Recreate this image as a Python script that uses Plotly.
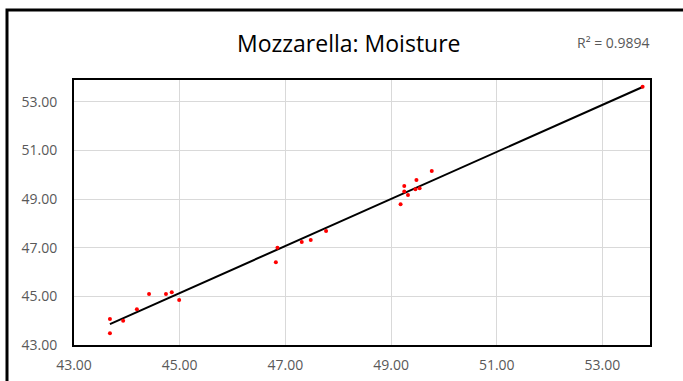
import numpy as np
import plotly.graph_objects as go

# Data
reference = [43.68, 43.68, 43.93, 44.19, 44.42, 44.74, 44.85, 44.99,
             46.85, 46.82, 47.31, 47.48, 47.77,
             49.25, 49.25, 49.32, 49.18, 49.48, 49.46, 49.54, 49.77, 53.76]
measured = [44.07, 43.48, 44.00, 44.47, 45.10, 45.10, 45.17, 44.85,
            47.00, 46.40, 47.24, 47.32, 47.69,
            49.54, 49.31, 49.17, 48.79, 49.79, 49.41, 49.45, 50.16, 53.62]
tick_vals = [43, 45, 47, 49, 51, 53]
tick_text = ["43.00", "45.00", "47.00", "49.00", "51.00", "53.00"]
title_text = "Mozzarella: Moisture"
r2_text = "R² = 0.9894"

xr = np.array(reference)
yr = np.array(measured)
slope, intercept = np.polyfit(xr, yr, 1)
trend_x = [xr.min(), xr.max()]
trend_y = [slope * v + intercept for v in trend_x]

fig = go.Figure()
fig.add_trace(go.Scatter(x=trend_x, y=trend_y, mode="lines",
                         line=dict(color="black", width=2), hoverinfo="skip",
                         showlegend=False))
fig.add_trace(go.Scatter(x=reference, y=measured, mode="markers",
                         marker=dict(color="#ff0000", size=4),
                         showlegend=False))

axis_common = dict(
    tickvals=tick_vals, ticktext=tick_text,
    showgrid=True, gridcolor="#d9d9d9", gridwidth=1,
    showline=True, linecolor="black", linewidth=2, mirror=True,
    zeroline=False, ticks="", automargin=False,
    tickfont=dict(family="Open Sans", size=14, color="#595959"),
)

pl, pr, pt, pb = 74, 650, 80, 345
W, H = 683, 381

def px2paper(px, py):
    return (px - pl) / (pr - pl), (pb - py) / (pb - pt)

tx, ty = px2paper(349, 43)
rx, ry = px2paper(613, 42)

fig.update_layout(
    width=W, height=H,
    margin=dict(l=pl, r=W - pr, t=pt, b=H - pb),
    paper_bgcolor="white", plot_bgcolor="white",
    xaxis=dict(range=[43, 53.9], ticklabelstandoff=6, **axis_common),
    yaxis=dict(range=[43, 53.9], ticklabelstandoff=12, **axis_common),
    annotations=[
        dict(text=title_text, x=tx, y=ty, xref="paper", yref="paper",
             xanchor="center", yanchor="middle",
             showarrow=False, font=dict(family="Open Sans", size=23, color="black")),
        dict(text=r2_text, x=rx, y=ry, xref="paper", yref="paper",
             xanchor="center", yanchor="middle",
             showarrow=False, font=dict(family="Open Sans", size=14, color="#595959")),
    ],
)

x0, y1 = px2paper(7, 10)
fig.add_shape(type="rect", xref="paper", yref="paper",
              x0=x0, x1=1.5, y0=-0.5, y1=y1,
              line=dict(color="black", width=3), layer="above")

fig.write_html("out.html", config={"displayModeBar": False},
               post_script="document.body.style.margin='0';document.body.style.overflow='hidden';")
